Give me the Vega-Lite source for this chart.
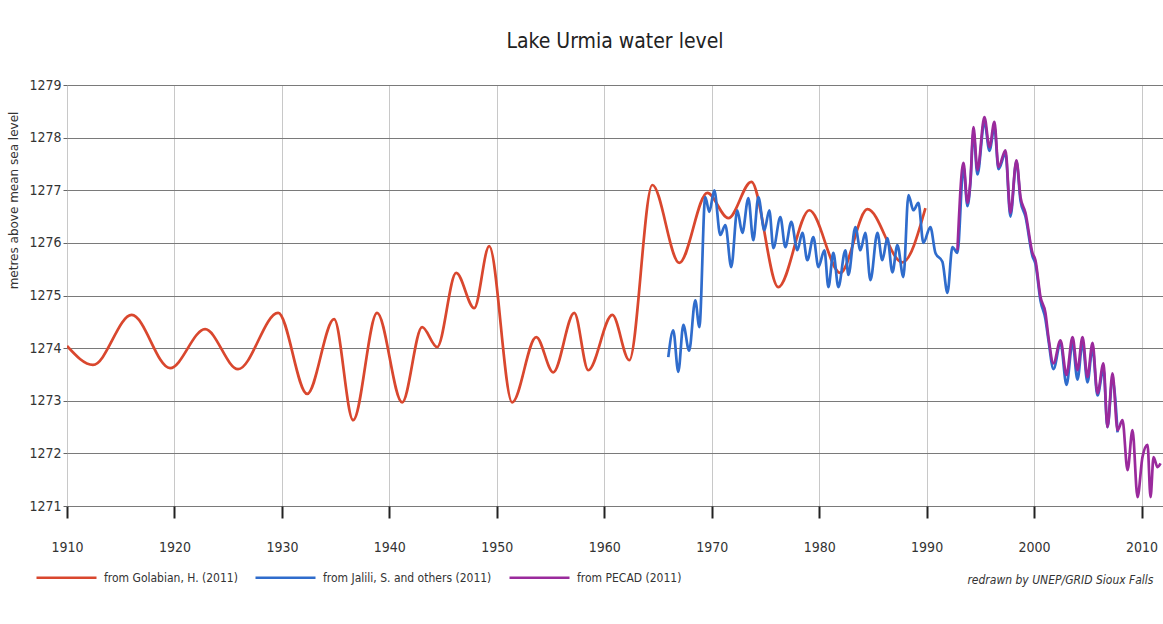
{
  "$schema": "https://vega.github.io/schema/vega-lite/v6.json",
  "width": 1096,
  "height": 421,
  "padding": {"left": 7, "top": 31, "right": 0, "bottom": 5},
  "background": "white",
  "title": {"text": "Lake Urmia water level", "font": "DejaVu Sans Condensed, Roboto, sans-serif", "fontSize": 21, "fontWeight": "normal", "color": "#222", "offset": 26, "anchor": "middle"},
  "data": {"values": [
    {"s": "from Golabian, H. (2011)", "year": 1910.0, "level": 1274.04},
    {"s": "from Golabian, H. (2011)", "year": 1912.42, "level": 1273.68},
    {"s": "from Golabian, H. (2011)", "year": 1916.02, "level": 1274.63},
    {"s": "from Golabian, H. (2011)", "year": 1919.59, "level": 1273.62},
    {"s": "from Golabian, H. (2011)", "year": 1922.85, "level": 1274.36},
    {"s": "from Golabian, H. (2011)", "year": 1925.92, "level": 1273.6},
    {"s": "from Golabian, H. (2011)", "year": 1929.65, "level": 1274.67},
    {"s": "from Golabian, H. (2011)", "year": 1932.35, "level": 1273.13},
    {"s": "from Golabian, H. (2011)", "year": 1934.86, "level": 1274.55},
    {"s": "from Golabian, H. (2011)", "year": 1936.63, "level": 1272.63},
    {"s": "from Golabian, H. (2011)", "year": 1938.86, "level": 1274.67},
    {"s": "from Golabian, H. (2011)", "year": 1941.19, "level": 1272.97},
    {"s": "from Golabian, H. (2011)", "year": 1943.05, "level": 1274.4},
    {"s": "from Golabian, H. (2011)", "year": 1944.45, "level": 1274.02},
    {"s": "from Golabian, H. (2011)", "year": 1946.22, "level": 1275.43},
    {"s": "from Golabian, H. (2011)", "year": 1947.9, "level": 1274.76},
    {"s": "from Golabian, H. (2011)", "year": 1949.29, "level": 1275.94},
    {"s": "from Golabian, H. (2011)", "year": 1951.43, "level": 1272.97},
    {"s": "from Golabian, H. (2011)", "year": 1953.67, "level": 1274.21},
    {"s": "from Golabian, H. (2011)", "year": 1955.25, "level": 1273.54},
    {"s": "from Golabian, H. (2011)", "year": 1957.21, "level": 1274.67},
    {"s": "from Golabian, H. (2011)", "year": 1958.51, "level": 1273.58},
    {"s": "from Golabian, H. (2011)", "year": 1960.75, "level": 1274.63},
    {"s": "from Golabian, H. (2011)", "year": 1962.33, "level": 1273.77},
    {"s": "from Golabian, H. (2011)", "year": 1964.47, "level": 1277.1},
    {"s": "from Golabian, H. (2011)", "year": 1966.98, "level": 1275.62},
    {"s": "from Golabian, H. (2011)", "year": 1969.59, "level": 1276.95},
    {"s": "from Golabian, H. (2011)", "year": 1971.55, "level": 1276.47},
    {"s": "from Golabian, H. (2011)", "year": 1973.69, "level": 1277.16},
    {"s": "from Golabian, H. (2011)", "year": 1976.2, "level": 1275.16},
    {"s": "from Golabian, H. (2011)", "year": 1979.09, "level": 1276.62},
    {"s": "from Golabian, H. (2011)", "year": 1981.97, "level": 1275.43},
    {"s": "from Golabian, H. (2011)", "year": 1984.49, "level": 1276.64},
    {"s": "from Golabian, H. (2011)", "year": 1987.75, "level": 1275.63},
    {"s": "from Golabian, H. (2011)", "year": 1989.89, "level": 1276.66},

    {"s": "from Jalili, S. and others (2011)", "year": 1965.96, "level": 1273.83},
    {"s": "from Jalili, S. and others (2011)", "year": 1966.42, "level": 1274.34},
    {"s": "from Jalili, S. and others (2011)", "year": 1966.89, "level": 1273.55},
    {"s": "from Jalili, S. and others (2011)", "year": 1967.36, "level": 1274.44},
    {"s": "from Jalili, S. and others (2011)", "year": 1967.9, "level": 1273.95},
    {"s": "from Jalili, S. and others (2011)", "year": 1968.47, "level": 1274.91},
    {"s": "from Jalili, S. and others (2011)", "year": 1968.85, "level": 1274.4},
    {"s": "from Jalili, S. and others (2011)", "year": 1969.4, "level": 1276.87},
    {"s": "from Jalili, S. and others (2011)", "year": 1969.78, "level": 1276.59},
    {"s": "from Jalili, S. and others (2011)", "year": 1970.24, "level": 1277.0},
    {"s": "from Jalili, S. and others (2011)", "year": 1970.8, "level": 1276.15},
    {"s": "from Jalili, S. and others (2011)", "year": 1971.27, "level": 1276.34},
    {"s": "from Jalili, S. and others (2011)", "year": 1971.82, "level": 1275.54},
    {"s": "from Jalili, S. and others (2011)", "year": 1972.38, "level": 1276.62},
    {"s": "from Jalili, S. and others (2011)", "year": 1972.85, "level": 1276.19},
    {"s": "from Jalili, S. and others (2011)", "year": 1973.41, "level": 1276.85},
    {"s": "from Jalili, S. and others (2011)", "year": 1973.87, "level": 1276.05},
    {"s": "from Jalili, S. and others (2011)", "year": 1974.34, "level": 1276.87},
    {"s": "from Jalili, S. and others (2011)", "year": 1974.9, "level": 1276.24},
    {"s": "from Jalili, S. and others (2011)", "year": 1975.36, "level": 1276.62},
    {"s": "from Jalili, S. and others (2011)", "year": 1975.74, "level": 1275.9},
    {"s": "from Jalili, S. and others (2011)", "year": 1976.39, "level": 1276.49},
    {"s": "from Jalili, S. and others (2011)", "year": 1976.85, "level": 1275.92},
    {"s": "from Jalili, S. and others (2011)", "year": 1977.41, "level": 1276.4},
    {"s": "from Jalili, S. and others (2011)", "year": 1977.97, "level": 1275.86},
    {"s": "from Jalili, S. and others (2011)", "year": 1978.44, "level": 1276.19},
    {"s": "from Jalili, S. and others (2011)", "year": 1978.9, "level": 1275.67},
    {"s": "from Jalili, S. and others (2011)", "year": 1979.46, "level": 1276.11},
    {"s": "from Jalili, S. and others (2011)", "year": 1979.93, "level": 1275.54},
    {"s": "from Jalili, S. and others (2011)", "year": 1980.49, "level": 1275.86},
    {"s": "from Jalili, S. and others (2011)", "year": 1980.86, "level": 1275.16},
    {"s": "from Jalili, S. and others (2011)", "year": 1981.32, "level": 1275.81},
    {"s": "from Jalili, S. and others (2011)", "year": 1981.79, "level": 1275.16},
    {"s": "from Jalili, S. and others (2011)", "year": 1982.44, "level": 1275.86},
    {"s": "from Jalili, S. and others (2011)", "year": 1982.72, "level": 1275.39},
    {"s": "from Jalili, S. and others (2011)", "year": 1983.37, "level": 1276.3},
    {"s": "from Jalili, S. and others (2011)", "year": 1983.84, "level": 1275.86},
    {"s": "from Jalili, S. and others (2011)", "year": 1984.3, "level": 1276.19},
    {"s": "from Jalili, S. and others (2011)", "year": 1984.77, "level": 1275.29},
    {"s": "from Jalili, S. and others (2011)", "year": 1985.42, "level": 1276.19},
    {"s": "from Jalili, S. and others (2011)", "year": 1985.88, "level": 1275.67},
    {"s": "from Jalili, S. and others (2011)", "year": 1986.35, "level": 1276.09},
    {"s": "from Jalili, S. and others (2011)", "year": 1986.82, "level": 1275.44},
    {"s": "from Jalili, S. and others (2011)", "year": 1987.28, "level": 1275.96},
    {"s": "from Jalili, S. and others (2011)", "year": 1987.84, "level": 1275.35},
    {"s": "from Jalili, S. and others (2011)", "year": 1988.31, "level": 1276.91},
    {"s": "from Jalili, S. and others (2011)", "year": 1988.77, "level": 1276.62},
    {"s": "from Jalili, S. and others (2011)", "year": 1989.24, "level": 1276.76},
    {"s": "from Jalili, S. and others (2011)", "year": 1989.7, "level": 1276.0},
    {"s": "from Jalili, S. and others (2011)", "year": 1990.35, "level": 1276.3},
    {"s": "from Jalili, S. and others (2011)", "year": 1990.82, "level": 1275.81},
    {"s": "from Jalili, S. and others (2011)", "year": 1991.47, "level": 1275.64},
    {"s": "from Jalili, S. and others (2011)", "year": 1991.94, "level": 1275.05},
    {"s": "from Jalili, S. and others (2011)", "year": 1992.4, "level": 1275.92},
    {"s": "from Jalili, S. and others (2011)", "year": 1992.87, "level": 1275.81},
    {"s": "from Jalili, S. and others (2011)", "year": 1993.43, "level": 1277.45},
    {"s": "from Jalili, S. and others (2011)", "year": 1993.8, "level": 1276.7},
    {"s": "from Jalili, S. and others (2011)", "year": 1994.08, "level": 1277.15},
    {"s": "from Jalili, S. and others (2011)", "year": 1994.36, "level": 1278.1},
    {"s": "from Jalili, S. and others (2011)", "year": 1994.73, "level": 1277.3},
    {"s": "from Jalili, S. and others (2011)", "year": 1995.38, "level": 1278.3},
    {"s": "from Jalili, S. and others (2011)", "year": 1995.85, "level": 1277.75},
    {"s": "from Jalili, S. and others (2011)", "year": 1996.31, "level": 1278.2},
    {"s": "from Jalili, S. and others (2011)", "year": 1996.69, "level": 1277.4},
    {"s": "from Jalili, S. and others (2011)", "year": 1997.34, "level": 1277.7},
    {"s": "from Jalili, S. and others (2011)", "year": 1997.8, "level": 1276.5},
    {"s": "from Jalili, S. and others (2011)", "year": 1998.36, "level": 1277.55},
    {"s": "from Jalili, S. and others (2011)", "year": 1998.74, "level": 1276.8},
    {"s": "from Jalili, S. and others (2011)", "year": 1999.2, "level": 1276.5},
    {"s": "from Jalili, S. and others (2011)", "year": 1999.85, "level": 1275.75},
    {"s": "from Jalili, S. and others (2011)", "year": 2000.13, "level": 1275.6},
    {"s": "from Jalili, S. and others (2011)", "year": 2000.6, "level": 1274.9},
    {"s": "from Jalili, S. and others (2011)", "year": 2001.06, "level": 1274.55},
    {"s": "from Jalili, S. and others (2011)", "year": 2001.34, "level": 1274.15},
    {"s": "from Jalili, S. and others (2011)", "year": 2001.81, "level": 1273.6},
    {"s": "from Jalili, S. and others (2011)", "year": 2002.46, "level": 1274.1},
    {"s": "from Jalili, S. and others (2011)", "year": 2003.02, "level": 1273.3},
    {"s": "from Jalili, S. and others (2011)", "year": 2003.58, "level": 1274.1},
    {"s": "from Jalili, S. and others (2011)", "year": 2004.04, "level": 1273.4},
    {"s": "from Jalili, S. and others (2011)", "year": 2004.51, "level": 1274.1},
    {"s": "from Jalili, S. and others (2011)", "year": 2004.97, "level": 1273.35},
    {"s": "from Jalili, S. and others (2011)", "year": 2005.44, "level": 1274.0},
    {"s": "from Jalili, S. and others (2011)", "year": 2005.9, "level": 1273.1},
    {"s": "from Jalili, S. and others (2011)", "year": 2006.46, "level": 1273.6},
    {"s": "from Jalili, S. and others (2011)", "year": 2006.83, "level": 1272.5},
    {"s": "from Jalili, S. and others (2011)", "year": 2007.3, "level": 1273.4},
    {"s": "from Jalili, S. and others (2011)", "year": 2007.77, "level": 1272.4},

    {"s": "from PECAD (2011)", "year": 1992.87, "level": 1275.86},
    {"s": "from PECAD (2011)", "year": 1993.43, "level": 1277.52},
    {"s": "from PECAD (2011)", "year": 1993.8, "level": 1276.76},
    {"s": "from PECAD (2011)", "year": 1994.08, "level": 1277.19},
    {"s": "from PECAD (2011)", "year": 1994.36, "level": 1278.2},
    {"s": "from PECAD (2011)", "year": 1994.73, "level": 1277.38},
    {"s": "from PECAD (2011)", "year": 1995.38, "level": 1278.39},
    {"s": "from PECAD (2011)", "year": 1995.85, "level": 1277.82},
    {"s": "from PECAD (2011)", "year": 1996.31, "level": 1278.3},
    {"s": "from PECAD (2011)", "year": 1996.69, "level": 1277.44},
    {"s": "from PECAD (2011)", "year": 1997.34, "level": 1277.76},
    {"s": "from PECAD (2011)", "year": 1997.8, "level": 1276.57},
    {"s": "from PECAD (2011)", "year": 1998.36, "level": 1277.57},
    {"s": "from PECAD (2011)", "year": 1998.74, "level": 1276.87},
    {"s": "from PECAD (2011)", "year": 1999.2, "level": 1276.57},
    {"s": "from PECAD (2011)", "year": 1999.85, "level": 1275.81},
    {"s": "from PECAD (2011)", "year": 2000.13, "level": 1275.67},
    {"s": "from PECAD (2011)", "year": 2000.6, "level": 1274.97},
    {"s": "from PECAD (2011)", "year": 2001.06, "level": 1274.67},
    {"s": "from PECAD (2011)", "year": 2001.34, "level": 1274.21},
    {"s": "from PECAD (2011)", "year": 2001.81, "level": 1273.71},
    {"s": "from PECAD (2011)", "year": 2002.46, "level": 1274.15},
    {"s": "from PECAD (2011)", "year": 2003.02, "level": 1273.49},
    {"s": "from PECAD (2011)", "year": 2003.58, "level": 1274.21},
    {"s": "from PECAD (2011)", "year": 2004.04, "level": 1273.58},
    {"s": "from PECAD (2011)", "year": 2004.51, "level": 1274.21},
    {"s": "from PECAD (2011)", "year": 2004.97, "level": 1273.45},
    {"s": "from PECAD (2011)", "year": 2005.44, "level": 1274.1},
    {"s": "from PECAD (2011)", "year": 2005.9, "level": 1273.14},
    {"s": "from PECAD (2011)", "year": 2006.46, "level": 1273.71},
    {"s": "from PECAD (2011)", "year": 2006.83, "level": 1272.5},
    {"s": "from PECAD (2011)", "year": 2007.3, "level": 1273.52},
    {"s": "from PECAD (2011)", "year": 2007.77, "level": 1272.44},
    {"s": "from PECAD (2011)", "year": 2008.23, "level": 1272.63},
    {"s": "from PECAD (2011)", "year": 2008.7, "level": 1271.68},
    {"s": "from PECAD (2011)", "year": 2009.16, "level": 1272.44},
    {"s": "from PECAD (2011)", "year": 2009.63, "level": 1271.17},
    {"s": "from PECAD (2011)", "year": 2010.09, "level": 1271.93},
    {"s": "from PECAD (2011)", "year": 2010.56, "level": 1272.16},
    {"s": "from PECAD (2011)", "year": 2010.84, "level": 1271.17},
    {"s": "from PECAD (2011)", "year": 2011.12, "level": 1271.93},
    {"s": "from PECAD (2011)", "year": 2011.49, "level": 1271.74},
    {"s": "from PECAD (2011)", "year": 2011.77, "level": 1271.81}
  ]},
  "mark": {"type": "line", "interpolate": "monotone", "strokeWidth": 2.7, "clip": true},
  "encoding": {
    "x": {
      "field": "year", "type": "quantitative",
      "scale": {"domain": [1910, 2012], "nice": false, "zero": false},
      "axis": {
        "values": [1910, 1920, 1930, 1940, 1950, 1960, 1970, 1980, 1990, 2000, 2010],
        "format": "d",
        "title": "redrawn by UNEP/GRID Sioux Falls",
        "titleAnchor": "end", "titleAlign": "right", "titleFont": "DejaVu Sans Condensed, Roboto, sans-serif", "titleFontStyle": "italic", "titleFontWeight": "normal", "titleFontSize": 12, "titleColor": "#333", "titlePadding": 20, "titleX": 1086,
        "domain": false, "grid": true, "gridColor": "#c8c8c8", "gridWidth": 1,
        "ticks": true, "tickColor": "#222", "tickSize": 12, "tickWidth": 2,
        "labelFont": "DejaVu Sans Condensed, Roboto, sans-serif", "labelFontSize": 14, "labelColor": "#333", "labelPadding": 22,
        "labelFlush": false
      }
    },
    "y": {
      "field": "level", "type": "quantitative",
      "scale": {"domain": [1271, 1279], "nice": false, "zero": false},
      "axis": {
        "values": [1271, 1272, 1273, 1274, 1275, 1276, 1277, 1278, 1279],
        "format": "d",
        "title": "metres above mean sea level",
        "titleFont": "DejaVu Sans", "titleFontSize": 12, "titleFontWeight": "normal", "titleColor": "#333", "titlePadding": 8, "titleY": 115,
        "domain": false, "grid": true, "gridColor": "#7a7a7a", "gridWidth": 1,
        "ticks": true, "tickColor": "#666", "tickSize": 4,
        "labelFont": "DejaVu Sans Condensed, Roboto, sans-serif", "labelFontSize": 14, "labelColor": "#333", "labelPadding": 2
      }
    },
    "color": {
      "field": "s", "type": "nominal",
      "scale": {"domain": ["from Golabian, H. (2011)", "from Jalili, S. and others (2011)", "from PECAD (2011)"], "range": ["#d9472e", "#2f6ccc", "#9a2a9c"]},
      "legend": {
        "title": null, "orient": "none", "direction": "horizontal", "legendX": -32, "legendY": 461,
        "symbolType": "stroke", "symbolSize": 3600, "symbolStrokeWidth": 2.4, "labelLimit": 400,
        "labelFont": "DejaVu Sans Condensed, Roboto, sans-serif", "labelFontSize": 12, "labelColor": "#333", "labelOffset": 6, "columnPadding": 12
      }
    }
  },
  "config": {"view": {"stroke": null}}
}
